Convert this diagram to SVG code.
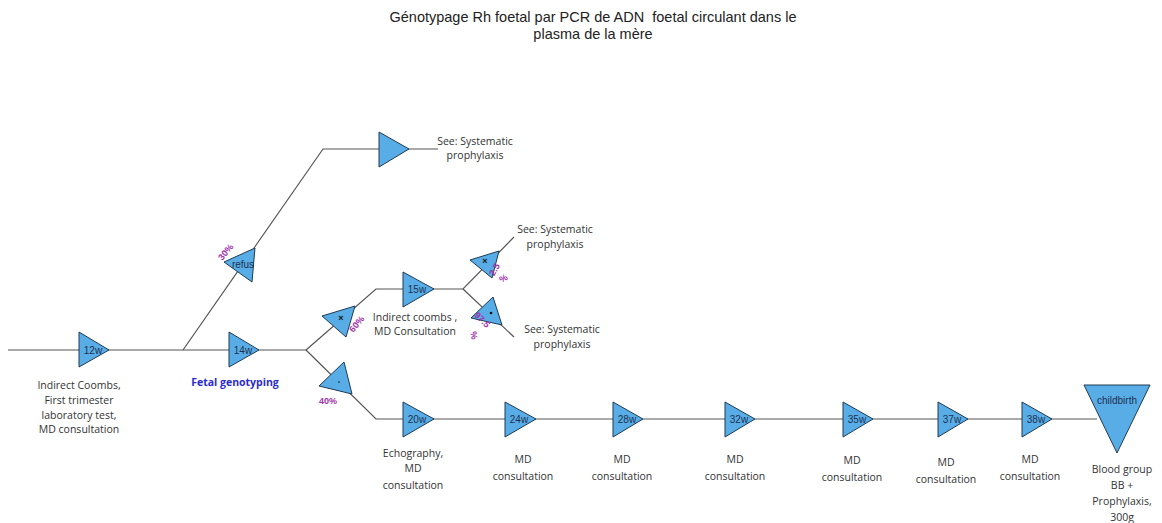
<svg xmlns="http://www.w3.org/2000/svg" width="1162" height="523" viewBox="0 0 1162 523">
<style>
.bg{fill:#ffffff}
.ln{stroke:#555555;stroke-width:1.2;fill:none}
.tri{fill:#58ade6;stroke:#1f3a55;stroke-width:1}
.tl{font-family:"Liberation Sans",Arial,sans-serif;font-size:10px;fill:#1f3050;text-anchor:middle}
.lb{font-family:"Open Sans","Noto Sans",sans-serif;font-size:10.5px;fill:#333333;text-anchor:middle}
.pct{font-family:"Liberation Sans",Arial,sans-serif;font-size:9px;fill:#a030a8;font-weight:bold;text-anchor:middle}
.title{font-family:"Liberation Sans",Arial,sans-serif;font-size:14.5px;fill:#222222;text-anchor:middle}
.blue{font-family:"Open Sans","Noto Sans",sans-serif;font-size:10.5px;fill:#2b2bd0;font-weight:bold;text-anchor:middle}
.mk{font-family:"Liberation Sans",Arial,sans-serif;font-size:9px;fill:#111111;font-weight:bold;text-anchor:middle}
</style>
<rect class="bg" x="0" y="0" width="1162" height="523"/>
<g id="title">
<text class="title" x="593" y="22" xml:space="preserve">Génotypage Rh foetal par PCR de ADN  foetal circulant dans le</text>
<text class="title" x="593" y="39">plasma de la mère</text>
</g>
<g id="connectors">
<polyline class="ln" points="8,350 306,350"/>
<polyline class="ln" points="183,350 323,149 438,149"/>
<polyline class="ln" points="306,350 376,289 463,289 514,237"/>
<polyline class="ln" points="463,289 514,337"/>
<polyline class="ln" points="306,350 376,419 1097,419"/>
</g>
<g id="n12w">
<polygon class="tri" points="79,332 79,367 109,350"/>
<text class="tl" x="93" y="353.5">12w</text>
<text class="lb" x="79" y="389">Indirect Coombs,</text>
<text class="lb" x="79" y="404">First trimester</text>
<text class="lb" x="79" y="419">laboratory test,</text>
<text class="lb" x="79" y="433">MD consultation</text>
</g>
<g id="n14w">
<polygon class="tri" points="229,332 229,367 259,350"/>
<text class="tl" x="243" y="353.5">14w</text>
<text class="blue" x="235" y="386">Fetal genotyping</text>
</g>
<g id="nrefus">
<polygon class="tri" points="224,262 255,248 252,282"/>
<text class="tl" x="243" y="268">refus</text>
<text class="pct" transform="translate(228,254) rotate(-50)">30%</text>
</g>
<g id="nsys1">
<polygon class="tri" points="379,132 379,167 409,149"/>
<text class="lb" x="475" y="145">See: Systematic</text>
<text class="lb" x="475" y="159">prophylaxis</text>
</g>
<g id="n60">
<polygon class="tri" points="322,316 355,306 346,337"/>
<text class="mk" x="341" y="321">×</text>
<text class="pct" transform="translate(359,326) rotate(-50)">60%</text>
</g>
<g id="n15w">
<polygon class="tri" points="403,272 403,307 434,289"/>
<text class="tl" x="417" y="292.5">15w</text>
<text class="lb" x="415" y="321">Indirect coombs ,</text>
<text class="lb" x="415" y="335">MD Consultation</text>
</g>
<g id="n25">
<polygon class="tri" points="470,260 499,251 492,278"/>
<text class="mk" x="485" y="264">×</text>
<text class="pct" transform="translate(497,271) rotate(-60)">2.5</text>
<text class="pct" transform="translate(505,281) rotate(-30)">%</text>
<text class="lb" x="555" y="233">See: Systematic</text>
<text class="lb" x="555" y="248">prophylaxis</text>
</g>
<g id="n975">
<polygon class="tri" points="493,297 471,318 502,325"/>
<circle cx="491" cy="313" r="1.3" fill="#111111"/>
<text class="pct" transform="translate(480,322) rotate(45)">97.5</text>
<text class="pct" transform="translate(471,336) rotate(80)">%</text>
<text class="lb" x="562" y="333">See: Systematic</text>
<text class="lb" x="562" y="348">prophylaxis</text>
</g>
<g id="n40">
<polygon class="tri" points="344,362 319,386 352,394"/>
<circle cx="339" cy="382" r="0.8" fill="#111111"/>
<text class="pct" x="328" y="404">40%</text>
</g>
<g id="n20w">
<polygon class="tri" points="403,402 403,437 434,419"/>
<text class="tl" x="417" y="422.5">20w</text>
<text class="lb" x="413" y="457">Echography,</text>
<text class="lb" x="413" y="472">MD</text>
<text class="lb" x="413" y="489">consultation</text>
</g>
<g id="n24w">
<polygon class="tri" points="505,402 505,437 536,419"/>
<text class="tl" x="519" y="422.5">24w</text>
<text class="lb" x="523" y="463">MD</text>
<text class="lb" x="523" y="480">consultation</text>
</g>
<g id="n28w">
<polygon class="tri" points="613,402 613,437 643,419"/>
<text class="tl" x="627" y="422.5">28w</text>
<text class="lb" x="622" y="463">MD</text>
<text class="lb" x="622" y="480">consultation</text>
</g>
<g id="n32w">
<polygon class="tri" points="725,402 725,437 755,419"/>
<text class="tl" x="739" y="422.5">32w</text>
<text class="lb" x="735" y="463">MD</text>
<text class="lb" x="735" y="480">consultation</text>
</g>
<g id="n35w">
<polygon class="tri" points="843,402 843,437 873,419"/>
<text class="tl" x="857" y="422.5">35w</text>
<text class="lb" x="852" y="464">MD</text>
<text class="lb" x="852" y="481">consultation</text>
</g>
<g id="n37w">
<polygon class="tri" points="938,402 938,437 968,419"/>
<text class="tl" x="952" y="422.5">37w</text>
<text class="lb" x="946" y="466">MD</text>
<text class="lb" x="946" y="483">consultation</text>
</g>
<g id="n38w">
<polygon class="tri" points="1022,402 1022,437 1052,419"/>
<text class="tl" x="1036" y="422.5">38w</text>
<text class="lb" x="1030" y="463">MD</text>
<text class="lb" x="1030" y="480">consultation</text>
</g>
<g id="nchildbirth">
<polygon class="tri" points="1084,385 1150,385 1117,453"/>
<text class="tl" x="1117" y="404">childbirth</text>
<text class="lb" x="1122" y="473">Blood group</text>
<text class="lb" x="1122" y="489">BB +</text>
<text class="lb" x="1122" y="505">Prophylaxis,</text>
<text class="lb" x="1122" y="521">300g</text>
</g>
</svg>
